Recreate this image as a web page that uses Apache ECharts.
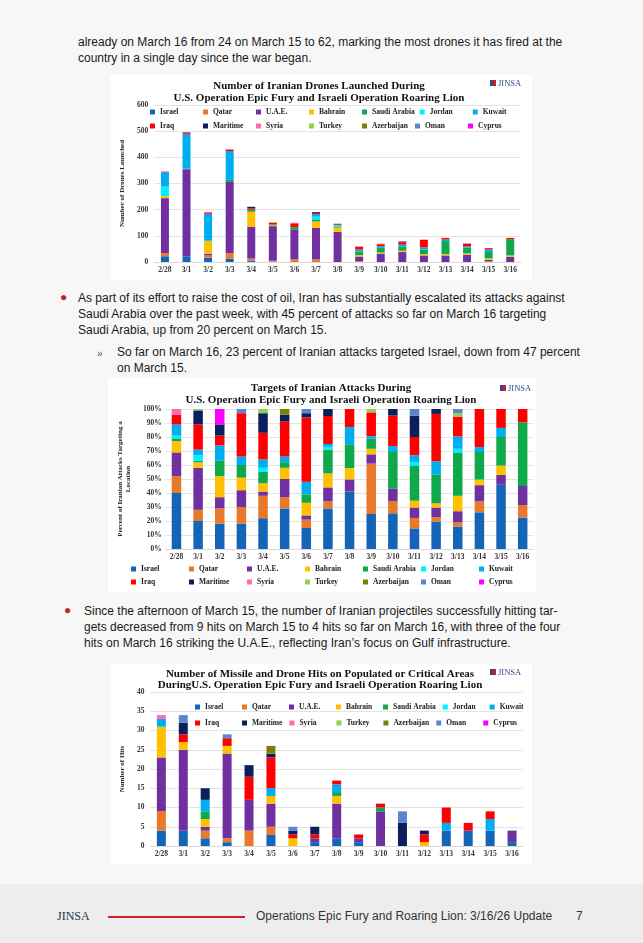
<!DOCTYPE html>
<html>
<head>
<meta charset="utf-8">
<script src="https://cdn.jsdelivr.net/npm/echarts@6/dist/echarts.min.js"></script>
<style>
  html, body { margin: 0; padding: 0; }
  body { width: 643px; height: 943px; background: #F7F7F7; position: relative; overflow: hidden;
         font-family: "Liberation Sans", Arial, sans-serif; color: #1a1a1a; }
  .ln { position: absolute; white-space: nowrap; font-size: 12px; line-height: 15px; }
  .bul { position: absolute; color: #C0212F; font-size: 12px; }
  .box { position: absolute; background: #FFFFFF; }
  #footer { position: absolute; left: 0; top: 884px; width: 643px; height: 59px; background: #EEEDEE; }
</style>
</head>
<body>
<div class="ln" style="left:78px;top:35px;">already on March 16 from 24 on March 15 to 62, marking the most drones it has fired at the</div>
<div class="ln" style="left:78px;top:51px;">country in a single day since the war began.</div>

<div class="box" id="c1" style="left:110px;top:75px;width:422px;height:205px;"></div>

<div class="bul" style="left:60px;top:290px;">&#9679;</div>
<div class="ln" style="left:78px;top:291px;">As part of its effort to raise the cost of oil, Iran has substantially escalated its attacks against</div>
<div class="ln" style="left:78px;top:307px;">Saudi Arabia over the past week, with 45 percent of attacks so far on March 16 targeting</div>
<div class="ln" style="left:78px;top:323px;">Saudi Arabia, up from 20 percent on March 15.</div>
<div class="ln" style="left:97px;top:346px;font-size:10px;color:#555;">&raquo;</div>
<div class="ln" style="left:117px;top:345px;">So far on March 16, 23 percent of Iranian attacks targeted Israel, down from 47 percent</div>
<div class="ln" style="left:117px;top:361px;">on March 15.</div>

<div class="box" id="c2" style="left:108px;top:378px;width:428px;height:214px;"></div>

<div class="bul" style="left:64px;top:603px;">&#9679;</div>
<div class="ln" style="left:84px;top:604px;">Since the afternoon of March 15, the number of Iranian projectiles successfully hitting tar-</div>
<div class="ln" style="left:84px;top:620px;">gets decreased from 9 hits on March 15 to 4 hits so far on March 16, with three of the four</div>
<div class="ln" style="left:84px;top:636px;">hits on March 16 striking the U.A.E., reflecting Iran’s focus on Gulf infrastructure.</div>

<div class="box" id="c3" style="left:110px;top:664px;width:422px;height:200px;"></div>

<div id="footer">
  <div class="ln" style="left:57px;top:25px;font-family:'Liberation Serif','DejaVu Serif',serif;font-size:12px;color:#1F2D4D;">JINSA</div>
  <div style="position:absolute;left:108px;top:32px;width:137px;height:1.5px;background:#D0202E;"></div>
  <div class="ln" style="left:256px;top:25px;color:#333;">Operations Epic Fury and Roaring Lion: 3/16/26 Update</div>
  <div class="ln" style="left:576px;top:25px;color:#333;">7</div>
</div>

<script>
// ---------- shared categories / legend ----------
const categories = ['2/28','3/1','3/2','3/3','3/4','3/5','3/6','3/7','3/8','3/9','3/10','3/11','3/12','3/13','3/14','3/15','3/16'];
const countries = ['Israel','Qatar','U.A.E.','Bahrain','Saudi Arabia','Jordan','Kuwait','Iraq','Maritime','Syria','Turkey','Azerbaijan','Oman','Cyprus'];
const countryColors = ['#1464B8','#E8782A','#7030A0','#FFC000','#0FA84A','#00F0FF','#00AEEF','#FF0000','#0A1F5C','#FF69B4','#92D050','#808000','#5A86CF','#FF00FF'];

// ---------- chart 1: drones launched ----------
const dronesIsrael     = [22,22,17,12,5,2,0,0,0,0,0,0,0,0,0,0,0];
const dronesQatar      = [12,0,8,22,8,3,10,10,0,3,0,0,0,0,0,2,0];
const dronesUAE        = [210,332,7,272,122,132,113,120,115,18,32,38,25,25,28,6,20];
const dronesBahrain    = [8,0,48,0,57,3,0,25,17,5,4,5,5,5,5,6,5];
const dronesSaudi      = [0,3,2,8,8,4,10,8,4,14,18,15,18,50,22,24,62];
const dronesJordan     = [36,0,0,0,0,0,0,10,6,0,0,0,0,0,0,0,0];
const dronesKuwait     = [55,130,102,110,0,0,0,10,0,8,6,8,8,6,5,10,0];
const dronesIraq       = [2,5,3,5,5,6,15,5,3,10,8,10,28,6,10,5,5];
const dronesMaritime   = [0,3,0,0,6,0,0,3,0,0,0,0,0,0,0,0,0];
const dronesSyria      = [2,0,5,3,0,0,2,0,2,2,2,0,2,0,2,0,0];
const dronesTurkey     = [0,0,0,0,0,3,0,0,0,0,0,0,0,0,0,0,0];
const dronesAzerbaijan = [0,0,0,0,0,0,0,0,0,0,0,0,0,0,0,0,0];
const dronesOman       = [0,0,0,0,0,0,0,0,0,0,0,4,0,0,0,0,0];
const dronesCyprus     = [0,0,0,0,0,0,0,0,0,0,0,0,0,0,0,0,0];

// ---------- chart 2: percent of attacks ----------
const pctIsrael     = [40,20,18,18,22,29,15,29,41,25,25.5,14.7,19.6,16,26.2,46.3,22.5];
const pctQatar      = [12,8,11,12,16,8,6,5,0,36,8.8,7.5,3.1,3,7.8,0,8.9];
const pctUAE        = [17,30,8,12,3,13,3,10,8.7,6.6,9,7.4,6.9,8,11.6,6.7,13.6];
const pctBahrain    = [8,4,15,9,6,8,9,10,8.1,4,0,4.9,3,11,4,6.6,0];
const pctSaudi      = [2,1,11,9,8,4,6,17,17,7.1,26,24.8,20.4,31,19.7,20.4,45.5];
const pctJordan     = [2,4,0,0,3,0,0,2,0,0,0,2.9,0,2.6,0,0,0];
const pctKuwait     = [8,4,11,6,6,4,9,2,12.3,1.9,4.2,4.8,9.6,8.8,3.5,6.5,0];
const pctIraq       = [7,18,7,31,19,25,46,20,13,17,21.8,13,33.9,14.2,27.2,13.5,9.5];
const pctMaritime   = [0,10,8,0,14,5,3,5,0,0,4.7,15.3,3.5,0,0,0,0];
const pctSyria      = [4,0,0,0,0,0,0,0,0,0,0,0,0,0,0,0,0];
const pctTurkey     = [0,1,0,0,3,0,0,0,0,2.4,0,0,0,2.4,0,0,0];
const pctAzerbaijan = [0,0,0,0,0,4,0,0,0,0,0,0,0,0,0,0,0];
const pctOman       = [0,0,0,3,0,0,3,0,0,0,0,4.7,0,3,0,0,0];
const pctCyprus     = [0,0,11,0,0,0,0,0,0,0,0,0,0,0,0,0,0];

// ---------- chart 3: hits ----------
const hitsIsrael     = [4,4,2,1,0,3,0,1,2,1,0,0,0,4,4,4,1];
const hitsQatar      = [5,0,2,1,4,2,0,0,0,0,0,0,0,0,0,0,0];
const hitsUAE        = [14,21,1,22,8,6,0,1,9,1,9,0,0,0,0,0,3];
const hitsBahrain    = [8,2,2,2,0,2,2,0,2,0,0,0,1,0,0,0,0];
const hitsSaudi      = [0,0,2,0,0,0,0,0,1,0,1,0,0,0,0,0,0];
const hitsJordan     = [0,0,0,0,0,0,0,0,0,0,0,0,0,0,0,0,0];
const hitsKuwait     = [2,0,3,0,0,2,0,0,2,0,0,0,0,2,0,3,0];
const hitsIraq       = [0,2,0,2,6,8,1,1,1,1,1,0,2,4,2,2,0];
const hitsMaritime   = [0,3,3,0,3,1,1,2,0,0,0,6,1,0,0,0,0];
const hitsSyria      = [1,0,0,0,0,0,0,0,0,0,0,0,0,0,0,0,0];
const hitsTurkey     = [0,0,0,0,0,0,0,0,0,0,0,0,0,0,0,0,0];
const hitsAzerbaijan = [0,0,0,0,0,2,0,0,0,0,0,0,0,0,0,0,0];
const hitsOman       = [0,2,0,1,0,0,1,0,0,0,0,3,0,0,0,0,0];
const hitsCyprus     = [0,0,0,0,0,0,0,0,0,0,0,0,0,0,0,0,0];

const SERIF = "'Liberation Serif','DejaVu Serif',serif";

function logo(x, y) {
  return [
    { type: 'rect', left: x, top: y + 1, shape: { width: 3, height: 6 }, style: { fill: '#2E4A8C' } },
    { type: 'rect', left: x + 3, top: y + 1, shape: { width: 3, height: 6 }, style: { fill: '#C8202F' } },
    { type: 'text', left: x + 8, top: y, style: { text: 'JINSA', fill: '#2E4A8C', font: '8.5px ' + SERIF } }
  ];
}

function buildOption(cfg) {
  const series = countries.map((name, i) => ({
    name: name, type: 'bar', stack: 'all',
    data: cfg.data[i], barWidth: cfg.barWidth,
    itemStyle: { color: countryColors[i] },
    emphasis: { disabled: true }
  }));
  return {
    animation: false,
    title: {
      text: cfg.title, left: cfg.titleX, top: cfg.titleTop, textAlign: 'center', padding: 0,
      textStyle: { fontFamily: SERIF, fontWeight: 'bold', fontSize: 11, lineHeight: cfg.titleLH, color: '#111' }
    },
    graphic: logo(cfg.logoX, cfg.logoY),
    legend: {
      data: countries, left: cfg.legendLeft, top: cfg.legendTop, width: cfg.legendWidth,
      icon: 'rect', itemWidth: 5, itemHeight: 5, itemGap: cfg.legendGap,
      selectedMode: false, padding: 0,
      textStyle: { fontFamily: SERIF, fontWeight: 'bold', fontSize: 7.5, color: '#222', width: cfg.legendTextW, lineHeight: 9 }
    },
    grid: { left: cfg.grid[0], top: cfg.grid[1], width: cfg.grid[2], height: cfg.grid[3], containLabel: false },
    xAxis: {
      type: 'category', data: categories,
      axisLine: { lineStyle: { color: '#D9D9D9' } }, axisTick: { show: false },
      axisLabel: { fontFamily: SERIF, fontWeight: 'bold', fontSize: 7.5, color: '#333', margin: 4 }
    },
    yAxis: {
      type: 'value', min: cfg.yMin, max: cfg.yMax, interval: cfg.yInterval,
      name: cfg.yName, nameLocation: 'middle', nameGap: cfg.yNameGap,
      nameTextStyle: { fontFamily: SERIF, fontWeight: 'bold', fontSize: 7, color: '#222', lineHeight: 8 },
      axisLine: { show: false }, axisTick: { show: false },
      splitLine: { lineStyle: { color: '#E3E3E3', width: 1 } },
      axisLabel: { fontFamily: SERIF, fontWeight: 'bold', fontSize: 7.5, color: '#333', margin: cfg.yLabelMargin, formatter: cfg.yFormatter }
    },
    series: series
  };
}

const c1 = echarts.init(document.getElementById('c1'), null, { renderer: 'canvas' });
c1.setOption(buildOption({
  title: 'Number of Iranian Drones Launched During\nU.S. Operation Epic Fury and Israeli Operation Roaring Lion',
  titleX: 209, titleTop: 5, titleLH: 12, logoX: 380, logoY: 4,
  legendLeft: 40, legendTop: 32.5, legendWidth: 395, legendGap: 5, legendTextW: 38,
  grid: [37, 30, 374, 157],
  yMin: 0, yMax: 600, yInterval: 100, yName: 'Number of Drones Launched', yNameGap: 25, yLabelMargin: 6,
  yFormatter: '{value}', barWidth: 8,
  data: [dronesIsrael, dronesQatar, dronesUAE, dronesBahrain, dronesSaudi, dronesJordan, dronesKuwait,
         dronesIraq, dronesMaritime, dronesSyria, dronesTurkey, dronesAzerbaijan, dronesOman, dronesCyprus]
}));

const c2 = echarts.init(document.getElementById('c2'), null, { renderer: 'canvas' });
c2.setOption(buildOption({
  title: 'Targets of Iranian Attacks During\nU.S. Operation Epic Fury and Israeli Operation Roaring Lion',
  titleX: 223, titleTop: 4, titleLH: 12, logoX: 392, logoY: 6,
  legendLeft: 23, legendTop: 186.5, legendWidth: 430, legendGap: 4, legendTextW: 44,
  grid: [36.5, 31, 389, 140],
  yMin: 0, yMax: 100, yInterval: 10, yName: 'Percent of Iranian Attacks Targeting a\nLocation', yNameGap: 29, yLabelMargin: 4,
  yFormatter: '{value}%', barWidth: 9.5,
  data: [pctIsrael, pctQatar, pctUAE, pctBahrain, pctSaudi, pctJordan, pctKuwait,
         pctIraq, pctMaritime, pctSyria, pctTurkey, pctAzerbaijan, pctOman, pctCyprus]
}));

const c3 = echarts.init(document.getElementById('c3'), null, { renderer: 'canvas' });
c3.setOption(buildOption({
  title: 'Number of Missile and Drone Hits on Populated or Critical Areas\nDuringU.S. Operation Epic Fury and Israeli Operation Roaring Lion',
  titleX: 210, titleTop: 5, titleLH: 11, logoX: 380, logoY: 4,
  legendLeft: 85, legendTop: 38.5, legendWidth: 365, legendGap: 7, legendTextW: 30,
  grid: [32, 28, 381, 154],
  yMin: 0, yMax: 40, yInterval: 5, yName: 'Number of Hits', yNameGap: 22, yLabelMargin: 6,
  yFormatter: '{value}', barWidth: 9,
  data: [hitsIsrael, hitsQatar, hitsUAE, hitsBahrain, hitsSaudi, hitsJordan, hitsKuwait,
         hitsIraq, hitsMaritime, hitsSyria, hitsTurkey, hitsAzerbaijan, hitsOman, hitsCyprus]
}));
</script>
</body>
</html>
